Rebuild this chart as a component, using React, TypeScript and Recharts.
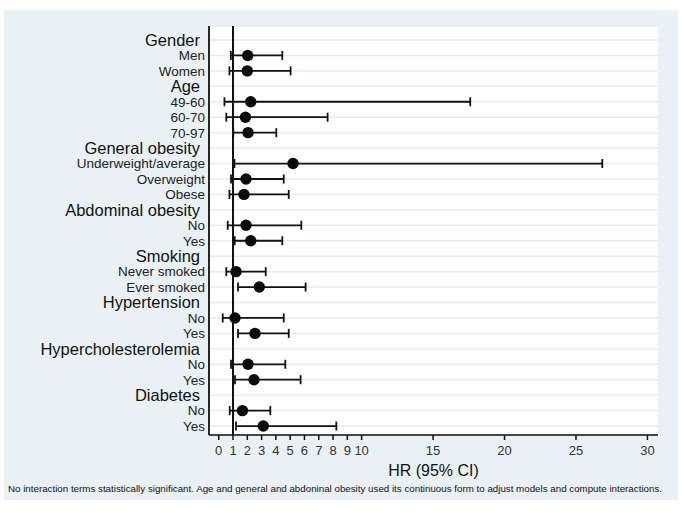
import React from "react";
import {
  ScatterChart,
  Scatter,
  XAxis,
  YAxis,
  CartesianGrid,
  ErrorBar,
  ReferenceLine,
} from "recharts";

const rowLabels = [
  "Gender", "Men", "Women",
  "Age", "49-60", "60-70", "70-97",
  "General obesity", "Underweight/average", "Overweight", "Obese",
  "Abdominal obesity", "No", "Yes",
  "Smoking", "Never smoked", "Ever smoked",
  "Hypertension", "No", "Yes",
  "Hypercholesterolemia", "No", "Yes",
  "Diabetes", "No", "Yes",
];
const headerRows = [0, 3, 7, 11, 14, 17, 20, 23];
const itemRows = [1, 2, 4, 5, 6, 8, 9, 10, 12, 13, 15, 16, 18, 19, 21, 22, 24, 25];
const hrValues = [2.03, 2.0, 2.24, 1.87, 2.05, 5.2, 1.91, 1.77, 1.91, 2.24, 1.21, 2.84, 1.14, 2.54, 2.05, 2.47, 1.66, 3.12];
const ciLower = [0.85, 0.75, 0.4, 0.53, 1.02, 1.1, 0.86, 0.75, 0.63, 1.12, 0.53, 1.35, 0.28, 1.35, 0.86, 1.14, 0.77, 1.21];
const ciUpper = [4.45, 5.03, 17.6, 7.62, 4.03, 26.84, 4.55, 4.9, 5.78, 4.45, 3.29, 6.08, 4.55, 4.9, 4.66, 5.73, 3.61, 8.23];
const xTicks = [0, 1, 2, 3, 4, 5, 6, 7, 8, 9, 10, 15, 20, 25, 30];
const xLabel = "HR (95% CI)";
const footnote =
  "No interaction terms statistically significant. Age and general and abdoninal obesity used its continuous form to adjust models and compute interactions.";

const data = itemRows.map((row, i) => ({
  row,
  hr: hrValues[i],
  err: [hrValues[i] - ciLower[i], ciUpper[i] - hrValues[i]],
}));

const FONT = "'Liberation Sans', Arial, Helvetica, sans-serif";

const YTick = (props: any) => {
  const { x, y, payload } = props;
  const idx = payload.value;
  const isHeader = headerRows.includes(idx);
  return (
    <text
      x={isHeader ? x - 5 : x}
      y={y}
      dy="0.36em"
      textAnchor="end"
      fontSize={isHeader ? 16.5 : 13.5}
      fontFamily={FONT}
      fill={isHeader ? "#111" : "#222"}
    >
      {rowLabels[idx]}
    </text>
  );
};

const Dot = (props: any) => {
  const { cx, cy } = props;
  if (cx == null || cy == null) return null;
  return <circle cx={cx} cy={cy} r={5.7} fill="#0a0a0a" />;
};

export default function App() {
  return (
    <div style={{ position: "absolute", left: 0, top: 0, width: 685, height: 513, background: "#fff" }}>
      <div
        style={{
          position: "absolute",
          left: 4,
          top: 10,
          width: 674,
          height: 490,
          background: "#e9f1f4",
        }}
      />
      <div style={{ position: "absolute", left: 0, top: 0 }}>
        <ScatterChart
          width={685}
          height={513}
          margin={{ top: 26, right: 27, bottom: 37, left: 149 }}
        >
          <CartesianGrid
            vertical={false}
            horizontal={true}
            stroke="#e3ebee"
            strokeWidth={1.5}
            fill="#ffffff"
          />
          <XAxis
            type="number"
            dataKey="hr"
            domain={[-0.68, 30.74]}
            allowDataOverflow
            ticks={xTicks}
            interval={0}
            height={41}
            tickSize={5}
            tickMargin={6}
            axisLine={{ stroke: "#111", strokeWidth: 1.5 }}
            tickLine={{ stroke: "#111", strokeWidth: 1.5 }}
            tick={{ fill: "#333", fontSize: 13, fontFamily: FONT }}
            label={{
              value: xLabel,
              position: "insideBottom",
              offset: 0,
              fill: "#111",
              fontSize: 16,
              fontFamily: FONT,
            }}
          />
          <YAxis
            type="number"
            dataKey="row"
            domain={[-0.907, 25.58]}
            allowDataOverflow
            reversed
            ticks={rowLabels.map((_, i) => i)}
            interval={0}
            width={60}
            tickSize={0}
            tickMargin={4}
            tickLine={false}
            axisLine={{ stroke: "#111", strokeWidth: 1.8 }}
            tick={<YTick />}
          />
          <ReferenceLine x={1} stroke="#111" strokeWidth={2} ifOverflow="extendDomain" />
          <Scatter data={data} isAnimationActive={false} shape={<Dot />}>
            <ErrorBar
              dataKey="err"
              direction="x"
              width={4.5}
              stroke="#111"
              strokeWidth={1.8}
              isAnimationActive={false}
            />
          </Scatter>
        </ScatterChart>
      </div>
      <svg
        width={685}
        height={20}
        style={{ position: "absolute", left: 0, top: 479 }}
      >
        <text
          x={8}
          y={12.5}
          fontSize={9}
          fontFamily={FONT}
          fill="#111"
          textLength={654}
          lengthAdjust="spacingAndGlyphs"
        >
          {footnote}
        </text>
      </svg>
    </div>
  );
}
